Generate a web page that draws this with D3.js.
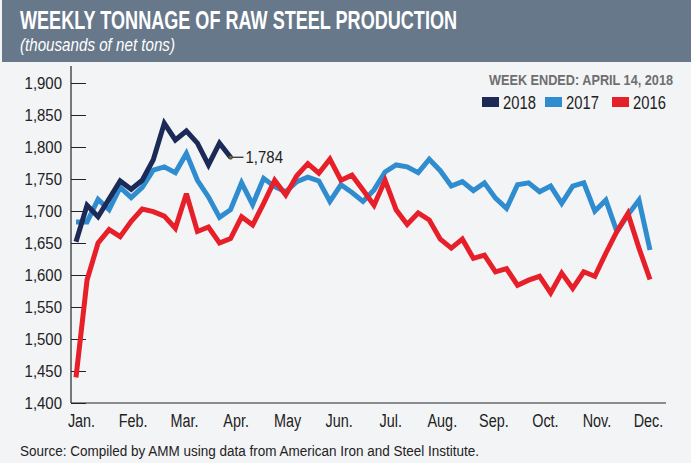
<!DOCTYPE html>
<html>
<head>
<meta charset="utf-8">
<title>Weekly Tonnage of Raw Steel Production</title>
<style>
  body { margin: 0; background: #f3f4f6; }
  svg { display: block; }
  text { font-family: "Liberation Sans", Arial, sans-serif; }
</style>
</head>
<body>
<div id="chart"></div>
<script src="https://d3js.org/d3.v7.min.js"></script>
<script>

// weekly values, thousands of net tons (week 1 .. 53)
var y2018 = [1652, 1709, 1691, 1719, 1747, 1734, 1748, 1780, 1837, 1811, 1825, 1806, 1772, 1806, 1784];
var y2017 = [1683, 1683, 1718, 1702, 1737, 1721, 1737, 1764, 1769, 1760, 1790, 1748, 1722, 1690,
             1702, 1744, 1710, 1751, 1738, 1730, 1746, 1753, 1747, 1715, 1741, 1729, 1715, 1733,
             1761, 1772, 1769, 1760, 1781, 1763, 1739, 1746, 1732, 1744, 1720, 1704, 1741, 1744,
             1730, 1739, 1712, 1739, 1744, 1700, 1717, 1668, 1694, 1717, 1639];
var y2016 = [1440, 1592, 1650, 1671, 1660, 1684, 1703, 1699, 1692, 1673, 1727, 1668, 1675, 1650,
             1657, 1691, 1678, 1712, 1748, 1725, 1755, 1774, 1759, 1781, 1748, 1756, 1733, 1709,
             1748, 1702, 1679, 1697, 1686, 1656, 1642, 1656, 1626, 1631, 1605, 1610, 1584, 1592,
             1598, 1572, 1603, 1579, 1605, 1598, 1634, 1668, 1696, 1642, 1593];
var months = ["Jan.", "Feb.", "Mar.", "Apr.", "May", "Jun.", "Jul.", "Aug.", "Sep.", "Oct.", "Nov.", "Dec."];
var yTicks = [1400, 1450, 1500, 1550, 1600, 1650, 1700, 1750, 1800, 1850, 1900];
var seriesNames = ["2018", "2017", "2016"];
var seriesColors = ["#1b2a56", "#2f8ccf", "#e61f29"];

var w = 691, h = 463;

// no condensed face installed: squeeze text horizontally
function squeeze(sel, k) {
    sel.each(function() {
        var len = this.getComputedTextLength();
        d3.select(this).attr("textLength", len * k).attr("lengthAdjust", "spacingAndGlyphs");
    });
}
function fitTo(sel, width) {
    sel.attr("textLength", width).attr("lengthAdjust", "spacingAndGlyphs");
}

var svg = d3.select("#chart").append("svg")
    .attr("width", w).attr("height", h);

svg.append("rect").attr("width", w).attr("height", h).attr("fill", "#f3f4f6");

// header band
svg.append("rect").attr("x", 2).attr("y", 0).attr("width", w - 2).attr("height", 62)
    .attr("fill", "#67788a");
svg.append("text").attr("x", 20).attr("y", 29)
    .attr("fill", "#fff").attr("font-size", 25).attr("font-weight", "bold")
    .text("WEEKLY TONNAGE OF RAW STEEL PRODUCTION")
    .call(fitTo, 437);
svg.append("text").attr("x", 20).attr("y", 51)
    .attr("fill", "#fff").attr("font-size", 18).attr("font-style", "italic")
    .text("(thousands of net tons)")
    .call(fitTo, 155);

var x = d3.scaleLinear().domain([0, 52]).range([76, 650]);
var y = d3.scaleLinear().domain([1400, 1900]).range([403, 83]);
var xm = d3.scalePoint().domain(months).range([81, 648]);

// y axis
var yAxis = svg.append("g").attr("transform", "translate(71,0)")
    .call(d3.axisRight(y).tickValues(yTicks).tickSize(15).tickFormat(d3.format(",")));
yAxis.select(".domain").remove();
yAxis.selectAll(".tick line").attr("stroke", "#222");
yAxis.selectAll(".tick text").attr("x", -9).attr("text-anchor", "end")
    .attr("font-size", 17).attr("fill", "#222").attr("font-family", null)
    .call(squeeze, 0.88);

svg.append("line").attr("x1", 71).attr("x2", 71).attr("y1", 66).attr("y2", 403)
    .attr("stroke", "#222").attr("stroke-width", 1.2);

// x axis
var xAxis = svg.append("g").attr("transform", "translate(0,403)")
    .call(d3.axisBottom(xm).tickSize(0).tickPadding(11));
xAxis.select(".domain").remove();
xAxis.selectAll(".tick text").attr("font-size", 18).attr("fill", "#222")
    .attr("font-family", null)
    .call(squeeze, 0.8);
svg.append("line").attr("x1", 71).attr("x2", 666).attr("y1", 403).attr("y2", 403)
    .attr("stroke", "#222").attr("stroke-width", 1.2);

// lines
var line = d3.line()
    .x(function(d, i) { return x(i); })
    .y(function(d) { return y(d); });

var order = [1, 2, 0];   // 2017 under 2016 under 2018
var data = [y2018, y2017, y2016];
order.forEach(function(k) {
    svg.append("path").datum(data[k])
        .attr("d", line)
        .attr("fill", "none")
        .attr("stroke", seriesColors[k])
        .attr("stroke-width", 5)
        .attr("stroke-linejoin", "miter")
        .attr("stroke-miterlimit", 3);
});

// latest value callout
var last = y2018.length - 1;
svg.append("line")
    .attr("x1", x(last)).attr("x2", x(last) + 13)
    .attr("y1", y(y2018[last])).attr("y2", y(y2018[last]))
    .attr("stroke", "#222").attr("stroke-width", 1.2);
svg.append("circle")
    .attr("cx", x(last)).attr("cy", y(y2018[last])).attr("r", 2)
    .attr("fill", "#6b6a2a").attr("stroke", "#222").attr("stroke-width", 0.6);
svg.append("text")
    .attr("x", x(last) + 15).attr("y", y(y2018[last]) + 6)
    .attr("font-size", 17).attr("fill", "#222")
    .text(d3.format(",")(y2018[last]))
    .call(squeeze, 0.88);

// week ended note + legend
svg.append("text").attr("x", 673).attr("y", 85).attr("text-anchor", "end")
    .attr("font-size", 15).attr("font-weight", "bold").attr("fill", "#6e6e6e")
    .text("WEEK ENDED: APRIL 14, 2018")
    .call(fitTo, 184);

var legendX = [482, 545, 612];
var lg = svg.selectAll(".leg").data(seriesNames).enter().append("g")
    .attr("class", "leg")
    .attr("transform", function(d, i) { return "translate(" + legendX[i] + ",97)"; });
lg.append("rect").attr("width", 17).attr("height", 10)
    .attr("fill", function(d, i) { return seriesColors[i]; });
lg.append("text").attr("x", 21).attr("y", 12)
    .attr("font-size", 18).attr("fill", "#222")
    .text(function(d) { return d; })
    .call(squeeze, 0.82);

// source
svg.append("text").attr("x", 20).attr("y", 456)
    .attr("font-size", 14).attr("fill", "#222")
    .text("Source: Compiled by AMM using data from American Iron and Steel Institute.")
    .call(fitTo, 459);

</script>
</body>
</html>
